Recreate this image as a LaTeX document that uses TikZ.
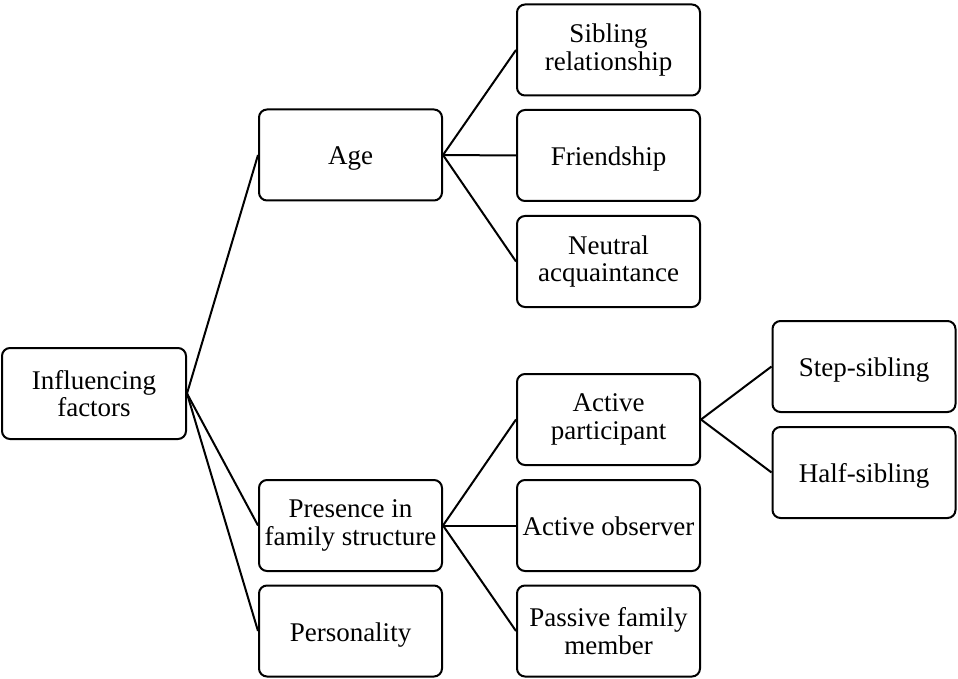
\documentclass[tikz,border=0pt]{standalone}
\usepackage{fontspec}
\setmainfont{Liberation Serif}
\usetikzlibrary{positioning}

\tikzset{
  factorbox/.style={draw, line width=2pt, rounded corners=8pt, minimum width=183pt, minimum height=91pt, inner sep=0pt, align=center, font=\fontsize{27}{27.5}\selectfont},
  oneline/.style={text height=25pt, text depth=5pt},
  link/.style={line width=2pt}
}

\begin{document}
\begin{tikzpicture}[x=1pt,y=1pt,yscale=-1,xscale=1]
\useasboundingbox (0,0) rectangle (958,679);

%Shape: Root box
\node[factorbox, minimum width=184pt] (infl) at (94,393.5) {Influencing\\factors};
%Shape: Level 1 boxes
\node[factorbox, oneline] (age) at (350.5,155) {Age};
\node[factorbox] (presence) at (350.5,525.5) {Presence in\\family structure};
\node[factorbox, oneline] (personality) at (350.5,631) {Personality};
%Shape: Level 2 boxes
\node[factorbox] (sibling) at (608.5,50) {Sibling\\relationship};
\node[factorbox, oneline] (friendship) at (608.5,155.5) {Friendship};
\node[factorbox] (neutral) at (608.5,261.5) {Neutral\\acquaintance};
\node[factorbox] (participant) at (608.5,419.5) {Active\\participant};
\node[factorbox, oneline] (observer) at (608.5,525.5) {Active observer};
\node[factorbox] (passive) at (608.5,631) {Passive family\\member};
%Shape: Level 3 boxes
\node[factorbox, oneline] (stepsib) at (864,366.5) {Step-sibling};
\node[factorbox, oneline] (halfsib) at (864,472.5) {Half-sibling};

%Straight Lines
\draw[link] (infl.east) -- (age.west);
\draw[link] (infl.east) -- (presence.west);
\draw[link] (infl.east) -- (personality.west);
\draw[link] (age.east) -- (sibling.west);
\draw[link] (age.east) -- (friendship.west);
\draw[link] (age.east) -- (neutral.west);
\draw[link] (presence.east) -- (participant.west);
\draw[link] (presence.east) -- (observer.west);
\draw[link] (presence.east) -- (passive.west);
\draw[link] (participant.east) -- (stepsib.west);
\draw[link] (participant.east) -- (halfsib.west);

\end{tikzpicture}
\end{document}
